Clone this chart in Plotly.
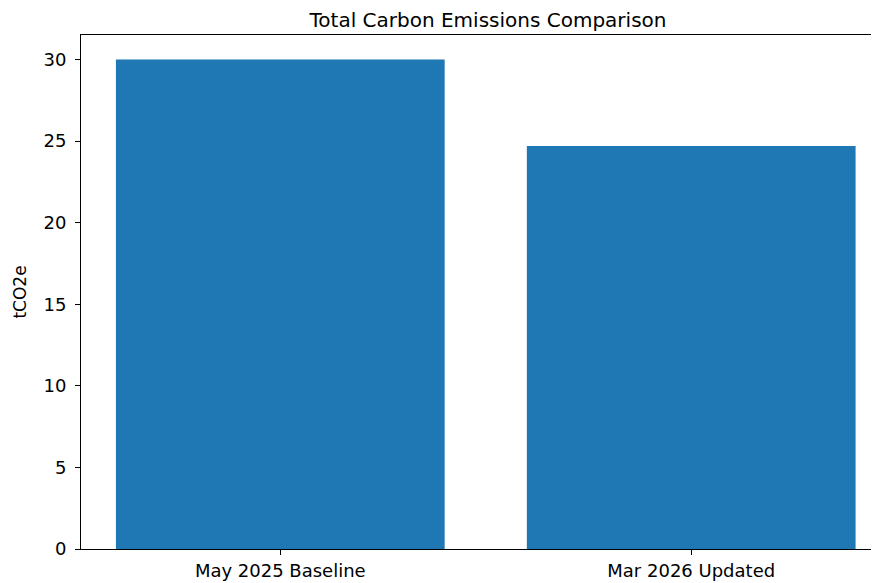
import plotly.graph_objects as go

categories = ["May 2025 Baseline", "Mar 2026 Updated"]
emissions = [30.0, 24.7]
y_ticks = [0, 5, 10, 15, 20, 25, 30]

# page body has an 8px margin; size the figure so the plot box lands where the reference has it
W, H = 871, 575

fig = go.Figure()
fig.add_trace(go.Bar(x=categories, y=emissions, marker=dict(color="#1f77b4", line=dict(width=0))))

axis_common = dict(showline=True, linecolor="black", linewidth=1,
                   ticks="outside", ticklen=5, tickcolor="black", showgrid=False, zeroline=False,
                   automargin=False,
                   tickfont=dict(family="DejaVu Sans", size=18, color="black"))
fig.update_layout(
    width=W, height=H,
    margin=dict(l=73, r=0, t=27, b=34),
    paper_bgcolor="white", plot_bgcolor="white",
    title=dict(text="Total Carbon Emissions Comparison", x=0.51, xref="paper", xanchor="center",
               y=1 - 12/H, yref="container", yanchor="middle", automargin=False,
               pad=dict(t=0, b=0, l=0, r=0),
               font=dict(family="DejaVu Sans", size=20, color="black")),
    bargap=0.2,
    showlegend=False,
)
fig.update_xaxes(range=[-0.485, 1.457], mirror=True, **axis_common)
fig.update_yaxes(range=[0, 31.5], tickvals=y_ticks, mirror=False, ticklabelstandoff=5,
                 title=dict(text="tCO2e", font=dict(family="DejaVu Sans", size=17, color="black"), standoff=12),
                 **axis_common)

fig.write_html("out.html")
